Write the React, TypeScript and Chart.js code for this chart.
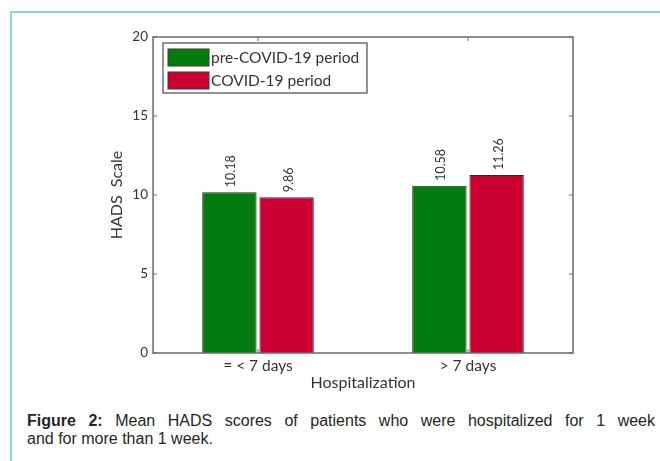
import React, { useEffect, useRef } from "react";
import { Chart, registerables } from "chart.js";

Chart.register(...registerables);

const categories = ["= < 7 days", "> 7 days"];
const seriesNames = ["pre-COVID-19 period", "COVID-19 period"];
const preCovid = [10.18, 10.58];
const covid = [9.86, 11.26];
const yTicks = [0, 5, 10, 15, 20];
const yTitle = "HADS  Scale";
const xTitle = "Hospitalization";

const GREEN = "#037c0f";
const RED = "#cc0031";
const AXIS = "#6b6b6b";
const TEXT = "#333333";
const FONT = "Lato, 'Open Sans', sans-serif";

const overlay = {
  id: "overlay",
  afterDatasetsDraw(chart: any) {
    const { ctx, chartArea: a, scales } = chart;
    const y = scales.y;
    const x = scales.x;
    ctx.save();
    // value labels
    chart.data.datasets.forEach((ds: any, di: number) => {
      const meta = chart.getDatasetMeta(di);
      meta.data.forEach((bar: any, i: number) => {
        const v = ds.data[i];
        ctx.save();
        ctx.translate(bar.x + 2, bar.y - 5);
        ctx.rotate(-Math.PI / 2);
        ctx.font = `12.5px ${FONT}`;
        ctx.fillStyle = TEXT;
        ctx.textAlign = "left";
        ctx.textBaseline = "middle";
        ctx.fillText(v.toFixed(2), 0, 0);
        ctx.restore();
      });
    });
    // frame
    ctx.strokeStyle = AXIS;
    ctx.lineWidth = 1.5;
    ctx.strokeRect(a.left, a.top, a.right - a.left, a.bottom - a.top);
    // inward ticks
    ctx.lineWidth = 1;
    yTicks.forEach((t) => {
      const py = y.getPixelForValue(t);
      ctx.beginPath();
      ctx.moveTo(a.left, py);
      ctx.lineTo(a.left + 4, py);
      ctx.moveTo(a.right, py);
      ctx.lineTo(a.right - 4, py);
      ctx.stroke();
    });
    categories.forEach((_, i) => {
      const px = x.getPixelForValue(i);
      ctx.beginPath();
      ctx.moveTo(px, a.top);
      ctx.lineTo(px, a.top + 4);
      ctx.moveTo(px, a.bottom);
      ctx.lineTo(px, a.bottom - 4);
      ctx.stroke();
    });
    // legend box
    const lx = a.left + 10;
    const ly = a.top + 6;
    ctx.fillStyle = "#ffffff";
    ctx.fillRect(lx, ly, 204, 50);
    ctx.strokeStyle = "#4a4a4a";
    ctx.lineWidth = 1.2;
    ctx.strokeRect(lx, ly, 204, 50);
    const colors = [GREEN, RED];
    seriesNames.forEach((name, i) => {
      const sy = ly + 6 + i * 23;
      ctx.fillStyle = colors[i];
      ctx.fillRect(lx + 5, sy, 41, 17);
      ctx.strokeStyle = "#3a3a3a";
      ctx.lineWidth = 1;
      ctx.strokeRect(lx + 5, sy, 41, 17);
      ctx.fillStyle = TEXT;
      ctx.font = `15.5px ${FONT}`;
      ctx.textAlign = "left";
      ctx.textBaseline = "middle";
      ctx.fillText(name, lx + 48, sy + 9);
    });
    ctx.restore();
  },
};

function ChartBox() {
  const ref = useRef<HTMLCanvasElement | null>(null);
  useEffect(() => {
    if (!ref.current) return;
    const chart = new Chart(ref.current, {
      type: "bar",
      data: {
        labels: categories,
        datasets: [
          {
            label: seriesNames[0],
            data: preCovid,
            backgroundColor: GREEN,
            borderColor: "#2b2b2b",
            borderWidth: 1,
          },
          {
            label: seriesNames[1],
            data: covid,
            backgroundColor: RED,
            borderColor: "#2b2b2b",
            borderWidth: 1,
          },
        ],
      },
      options: {
        responsive: false,
        animation: false,
        events: [],
        layout: { padding: { left: 0, top: 37, right: 87, bottom: 0 } },
        plugins: {
          legend: { display: false },
          tooltip: { enabled: false },
        },
        datasets: {
          bar: { categoryPercentage: 0.545, barPercentage: 0.95 },
        },
        scales: {
          x: {
            grid: { display: false, drawTicks: false },
            border: { display: false },
            ticks: { color: TEXT, font: { family: FONT, size: 15.5 }, padding: 4 },
            title: {
              display: true,
              text: xTitle,
              color: TEXT,
              font: { family: FONT, size: 16 },
              padding: { top: 0, bottom: 8 },
            },
            afterFit: (s: any) => {
              s.height = 47;
            },
          },
          y: {
            min: 0,
            max: 20,
            afterBuildTicks: (s: any) => {
              s.ticks = yTicks.map((v) => ({ value: v }));
            },
            grid: { display: false, drawTicks: false },
            border: { display: false },
            ticks: { color: TEXT, font: { family: FONT, size: 13.5 }, padding: 5 },
            title: {
              display: true,
              text: yTitle,
              color: TEXT,
              font: { family: FONT, size: 16 },
              padding: { top: 107, bottom: 0 },
            },
            afterFit: (s: any) => {
              s.width = 153;
            },
          },
        },
      },
      plugins: [overlay],
    });
    return () => chart.destroy();
  }, []);
  return (
    <canvas
      ref={ref}
      width={660}
      height={400}
      style={{ position: "absolute", left: 0, top: 0, width: 660, height: 400 }}
    />
  );
}

export default function App() {
  const capStyle: React.CSSProperties = {
    position: "absolute",
    left: 27,
    width: 628,
    fontFamily: "'Liberation Sans', Arial, sans-serif",
    fontSize: 16,
    lineHeight: "18px",
    color: "#262626",
    whiteSpace: "nowrap",
  };
  return (
    <div
      style={{
        position: "absolute",
        left: 0,
        top: 0,
        width: 660,
        height: 461,
        overflow: "hidden",
        background: "#ffffff",
      }}
    >
      <div
        style={{
          position: "absolute",
          left: 10,
          top: 11,
          width: 700,
          height: 520,
          border: "2px solid #84dacb",
          boxSizing: "border-box",
        }}
      />
      <ChartBox />
      <div
        style={{
          ...capStyle,
          top: 412,
          whiteSpace: "normal",
          textAlign: "justify",
          textAlignLast: "justify",
        }}
      >
        <b>Figure 2:</b> Mean HADS scores of patients who were hospitalized for 1 week
      </div>
      <div style={{ ...capStyle, top: 430 }}>and for more than 1 week.</div>
    </div>
  );
}
